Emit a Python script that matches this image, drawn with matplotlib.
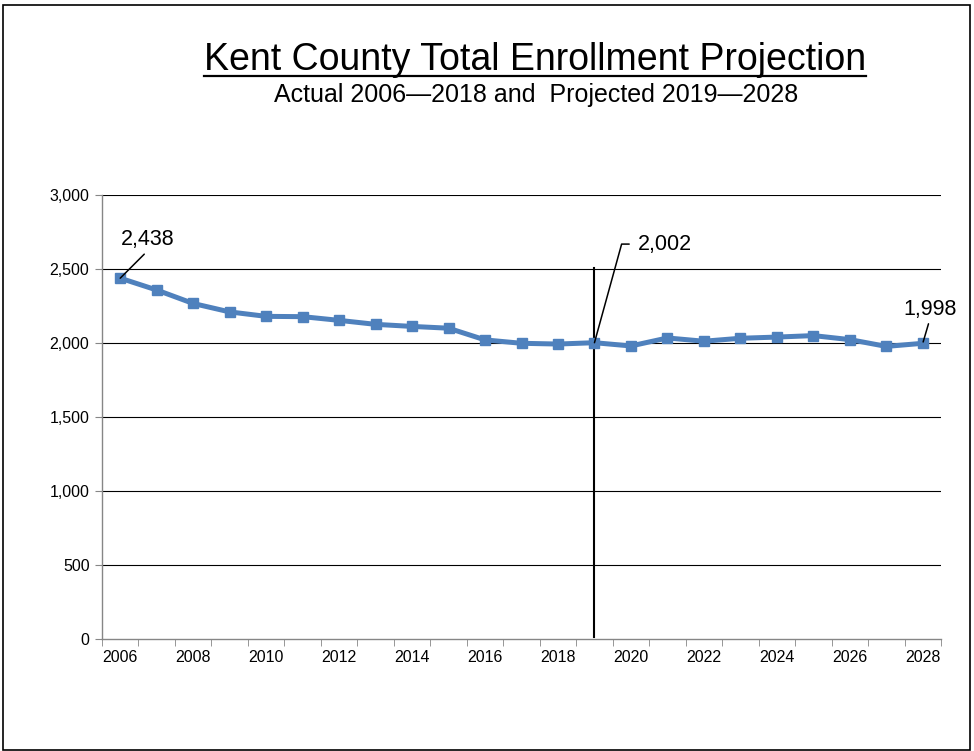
import matplotlib
matplotlib.use('Agg')
import matplotlib.pyplot as plt
from matplotlib.patches import Rectangle
import numpy as np

plt.rcParams['font.family'] = ['Liberation Sans', 'DejaVu Sans']

years = list(range(2006, 2029))
enrollment = [2438, 2358, 2267, 2210, 2180, 2178, 2153, 2126, 2112, 2100,
              2021, 1998, 1993, 2002, 1980, 2034, 2012, 2032, 2040, 2050,
              2023, 1977, 1998]
tick_years = [str(y) for y in years[::2]]
divider_year = 2019

title = 'Kent County Total Enrollment Projection'
subtitle = 'Actual 2006\u20142018 and  Projected 2019\u20142028'

fig = plt.figure(figsize=(9.74, 7.51), dpi=100)
ax = fig.add_axes([102/974, 1-639/751, (941-102)/974, (639-195)/751])

xs = np.arange(len(years))
ax.plot(xs, enrollment, color='#4F81BD', lw=3.6, marker='s', ms=7.5,
        markeredgecolor='#4F81BD', zorder=3)

ax.set_xlim(-0.5, len(years) - 0.5)
ax.set_ylim(0, 3000)
ax.set_yticks(np.arange(0, 3001, 500))
ax.set_yticklabels(['{:,}'.format(v) for v in range(0, 3001, 500)], fontsize=11.5)
ax.set_xticks(xs[::2])
ax.set_xticklabels(tick_years, fontsize=11.5)
ax.set_xticks(np.arange(-0.5, len(years)), minor=True)
ax.tick_params(axis='x', which='major', length=0, pad=8)
ax.tick_params(axis='x', which='minor', length=5, color='#868686', direction='out')
ax.tick_params(axis='y', length=5, color='#868686', direction='out', pad=4)

for v in range(500, 3001, 500):
    ax.axhline(v, color='black', lw=0.8, zorder=1)
for s in ['top', 'right']:
    ax.spines[s].set_visible(False)
for s in ['left', 'bottom']:
    ax.spines[s].set_color('#868686')
    ax.spines[s].set_linewidth(1.0)

# divider between actual and projected
di = years.index(divider_year)
ax.plot([di, di], [15, 2510], color='black', lw=1.5, zorder=2)

# data labels
ax.annotate('{:,}'.format(enrollment[0]), (0, enrollment[0]), xytext=(20, 20),
            textcoords='offset points', ha='center', va='bottom', fontsize=15.5,
            arrowprops=dict(arrowstyle='-', color='black', lw=1.1,
                            shrinkA=1, shrinkB=0, relpos=(0.5, 0)))
ax.annotate('{:,}'.format(enrollment[di]), (di, enrollment[di]), xytext=(31, 71),
            textcoords='offset points', ha='left', va='center', fontsize=15.5,
            arrowprops=dict(arrowstyle='-', color='black', lw=1.1,
                            shrinkA=4, shrinkB=0, relpos=(0, 0.5),
                            connectionstyle='angle,angleA=0,angleB=74.6,rad=0'))
ax.annotate('{:,}'.format(enrollment[-1]), (xs[-1], enrollment[-1]), xytext=(5, 17),
            textcoords='offset points', ha='center', va='bottom', fontsize=15.5,
            arrowprops=dict(arrowstyle='-', color='black', lw=1.1,
                            shrinkA=1, shrinkB=1, relpos=(0.5, 0)))

t = fig.text(0.549, 1-70.5/751, title, ha='center', va='baseline', fontsize=27)
fig.text(0.5503, 1-102/751, subtitle, ha='center', va='baseline', fontsize=18)

# underline title
fig.canvas.draw()
bb = t.get_window_extent(fig.canvas.get_renderer())
uy = 1 - 75.5/751
fig.add_artist(plt.Line2D([bb.x0/974, bb.x1/974], [uy, uy], color='black', lw=1.6))

# outer border
fig.add_artist(Rectangle((3/974, 1.5/751), 967/974, 745/751, transform=fig.transFigure,
                         fill=False, edgecolor='black', lw=1.2))

fig.savefig('out.png', dpi=100)
